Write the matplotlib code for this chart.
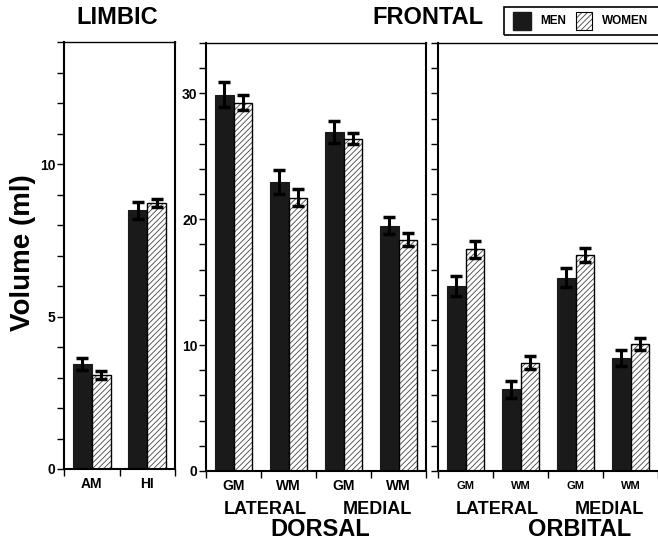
import matplotlib
matplotlib.use("Agg")
import matplotlib.pyplot as plt
from matplotlib.patches import Rectangle
import numpy as np

plt.rcParams['font.family'] = ['Liberation Sans', 'DejaVu Sans']
plt.rcParams['font.weight'] = 'bold'
plt.rcParams['hatch.linewidth'] = 0.6

# ---- data ----
limbic_cats = ['AM', 'HI']
limbic_men = [3.43, 8.49]
limbic_men_err = [0.20, 0.28]
limbic_women = [3.07, 8.73]
limbic_women_err = [0.13, 0.13]

frontal_cats = ['GM', 'WM', 'GM', 'WM']
region_labels = ['LATERAL', 'MEDIAL']
dorsal_men = [29.9, 22.96, 26.93, 19.47]
dorsal_men_err = [1.00, 0.95, 0.85, 0.67]
dorsal_women = [29.26, 21.72, 26.40, 18.39]
dorsal_women_err = [0.60, 0.65, 0.45, 0.48]

orbital_men = [14.68, 6.48, 15.37, 8.99]
orbital_men_err = [0.80, 0.66, 0.72, 0.61]
orbital_women = [17.60, 8.60, 17.17, 10.08]
orbital_women_err = [0.68, 0.53, 0.53, 0.50]

W, H = 658, 543
fig = plt.figure(figsize=(W / 100, H / 100), dpi=100)


def box(x0, x1, ytop, ybot):
    return [x0 / W, 1 - ybot / H, (x1 - x0) / W, (ybot - ytop) / H]


ax_l = fig.add_axes(box(64, 175, 42, 469))
ax_d = fig.add_axes(box(206, 426, 43, 471))
ax_o = fig.add_axes(box(438, 658, 43, 471))

BW = 0.345
MEN_C = '#1a1a1a'


def draw(ax, men, men_err, women, women_err):
    n = len(men)
    x = np.arange(n) + 0.5
    ax.bar(x - BW / 2, men, BW, color=MEN_C, edgecolor=MEN_C, linewidth=0.8, zorder=2)
    ax.bar(x + BW / 2, women, BW, color='white', edgecolor='#444444',
           hatch='//////', linewidth=0, zorder=2)
    ax.bar(x + BW / 2, women, BW, fill=False, edgecolor='black', linewidth=1.0, zorder=3)
    ax.errorbar(x - BW / 2, men, yerr=men_err, fmt='none', ecolor='black',
                elinewidth=2.2, capsize=4.5, capthick=2.5, zorder=4)
    ax.errorbar(x + BW / 2, women, yerr=women_err, fmt='none', ecolor='black',
                elinewidth=2.2, capsize=4.5, capthick=2.5, zorder=4)
    ax.set_xlim(0, n)
    ax.set_xticks(np.arange(n + 1))
    ax.set_xticklabels([])
    ax.tick_params(axis='x', which='major', direction='out', length=5, width=1)
    for s in ['left', 'bottom', 'right']:
        ax.spines[s].set_linewidth(1.5)
    ax.spines['top'].set_linewidth(1.0)
    ax.tick_params(axis='y', direction='out', length=5, width=1, pad=1)


def frac(ax_bottom_px, y_px, height_px=428):
    return -(y_px - ax_bottom_px) / height_px


# limbic
draw(ax_l, limbic_men, limbic_men_err, limbic_women, limbic_women_err)
ax_l.set_ylim(0, 14)
ax_l.set_yticks(np.arange(0, 15, 1))
ax_l.set_yticklabels([str(v) if v % 5 == 0 else '' for v in range(0, 15)],
                     fontsize=10, fontweight='bold')
for i, c in enumerate(limbic_cats):
    ax_l.text(i + 0.5, frac(469, 488.5, 427), c, transform=ax_l.get_xaxis_transform(),
              ha='center', va='baseline', fontsize=10, fontweight='bold')

# dorsal
draw(ax_d, dorsal_men, dorsal_men_err, dorsal_women, dorsal_women_err)
ax_d.set_ylim(0, 34)
ax_d.set_yticks(np.arange(0, 35, 2))
ax_d.set_yticklabels([str(v) if v % 10 == 0 else '' for v in range(0, 35, 2)],
                     fontsize=10, fontweight='bold')

# orbital
draw(ax_o, orbital_men, orbital_men_err, orbital_women, orbital_women_err)
ax_o.set_ylim(0, 34)
ax_o.set_yticks(np.arange(0, 35, 2))
ax_o.set_yticklabels([])
ax_o.spines['right'].set_visible(False)

for ax, fs, gy, name, namex in [(ax_d, 10, 490.5, 'DORSAL', 2.07), (ax_o, 8, 489, 'ORBITAL', 2.58)]:
    tr = ax.get_xaxis_transform()
    for i, c in enumerate(frontal_cats):
        ax.text(i + 0.5, frac(471, gy), c, transform=tr, ha='center', va='baseline',
                fontsize=fs, fontweight='bold')
    ax.text(1.08, frac(471, 514), region_labels[0], transform=tr, ha='center', va='baseline',
            fontsize=13, fontweight='bold')
    ax.text(3.12, frac(471, 514), region_labels[1], transform=tr, ha='center', va='baseline',
            fontsize=13, fontweight='bold')
    ax.text(namex, frac(471, 536), name, transform=tr, ha='center', va='baseline',
            fontsize=17, fontweight='bold')

# titles
fig.text(117 / W, 1 - 18 / H, 'LIMBIC', ha='center', va='center', fontsize=17, fontweight='bold')
fig.text(428 / W, 1 - 18 / H, 'FRONTAL', ha='center', va='center', fontsize=17, fontweight='bold')

# y label
fig.text(23 / W, 1 - 253 / H, 'Volume (ml)', rotation=90, ha='center', va='center',
         fontsize=20, fontweight='bold')

# legend (manual)
fig.patches.append(Rectangle((504 / W, 1 - 35 / H), 160 / W, 28 / H, transform=fig.transFigure,
                             fill=False, edgecolor='black', linewidth=1.2))
fig.patches.append(Rectangle((513 / W, 1 - 30 / H), 18 / W, 18 / H, transform=fig.transFigure,
                             facecolor=MEN_C, edgecolor=MEN_C))
fig.text(540 / W, 1 - 21 / H, 'MEN', ha='left', va='center', fontsize=8.5, fontweight='bold')
fig.patches.append(Rectangle((576 / W, 1 - 30 / H), 16 / W, 18 / H, transform=fig.transFigure,
                             facecolor='white', edgecolor='#444444', hatch='//////', linewidth=0))
fig.patches.append(Rectangle((576 / W, 1 - 30 / H), 16 / W, 18 / H, transform=fig.transFigure,
                             fill=False, edgecolor='black', linewidth=0.8))
fig.text(602 / W, 1 - 21 / H, 'WOMEN', ha='left', va='center', fontsize=8.5, fontweight='bold')

fig.savefig('out.png', dpi=100)
